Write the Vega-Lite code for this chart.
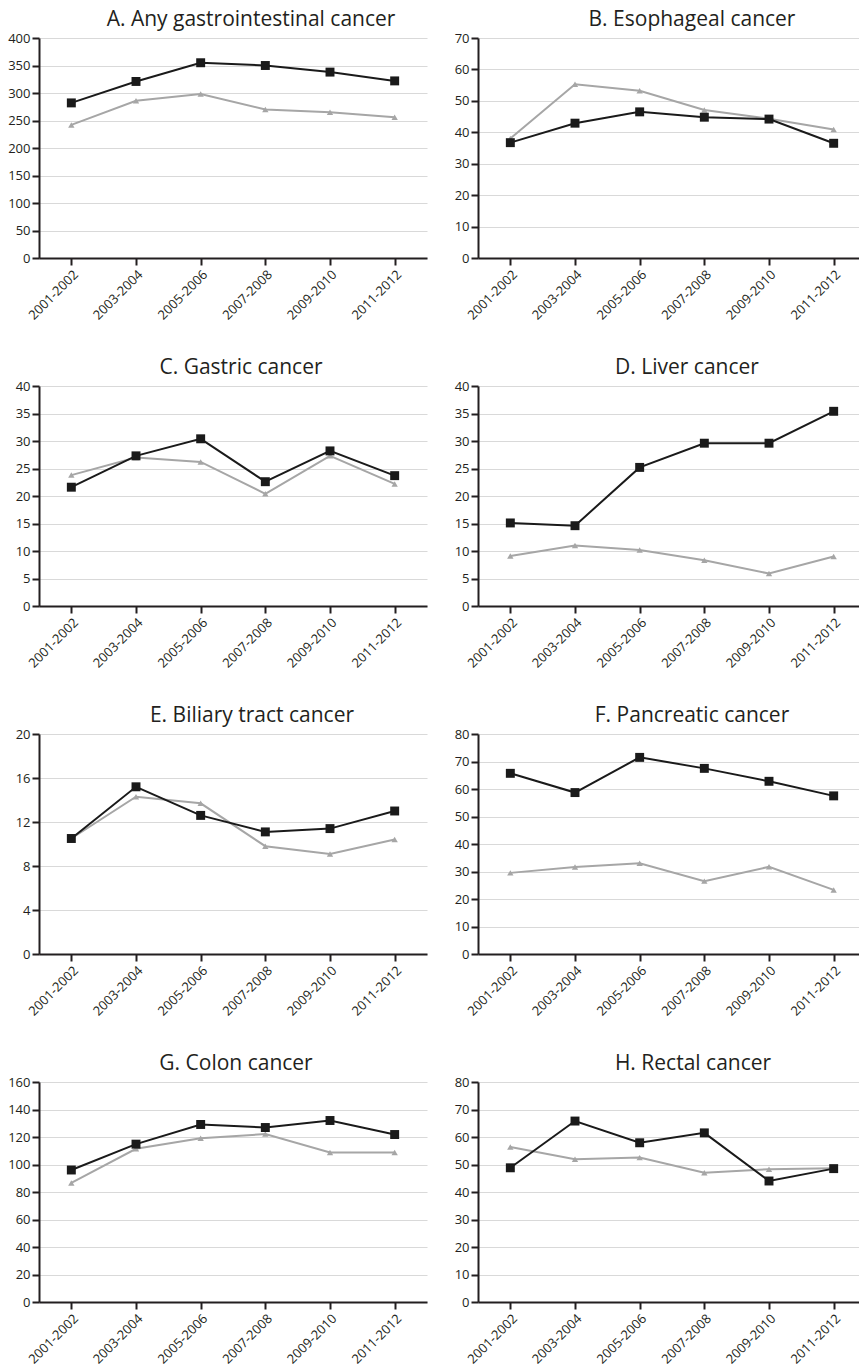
{
  "$schema": "https://vega.github.io/schema/vega-lite/v6.json",
  "background": "white",
  "padding": {"left": 7, "top": 9, "right": 0, "bottom": 0},
  "config": {
    "font": "Open Sans",
    "view": {"stroke": null},
    "title": {"fontSize": 21, "fontWeight": "normal", "color": "#231f20", "anchor": "middle", "offset": 2, "font": "Open Sans"},
    "axis": {"labelFont": "Open Sans", "labelFontSize": 13, "labelColor": "#231f20", "domainColor": "#231f20", "domainWidth": 2, "tickColor": "#231f20", "tickWidth": 2, "tickSize": 7, "labelPadding": 2, "title": null, "gridColor": "#d9d9d9", "gridWidth": 1},
    "axisY": {"grid": true},
    "axisX": {"grid": false, "labelAngle": -45, "labelPadding": 3},
    "line": {"strokeWidth": 2},
    "point": {"filled": true, "opacity": 1}
  },
  "datasets": {
    "A": [
      {"period":"2001-2002","series":"Series 2","rate":242},{"period":"2003-2004","series":"Series 2","rate":286},{"period":"2005-2006","series":"Series 2","rate":298},{"period":"2007-2008","series":"Series 2","rate":270},{"period":"2009-2010","series":"Series 2","rate":265},{"period":"2011-2012","series":"Series 2","rate":256},
      {"period":"2001-2002","series":"Series 1","rate":282},{"period":"2003-2004","series":"Series 1","rate":321},{"period":"2005-2006","series":"Series 1","rate":355},{"period":"2007-2008","series":"Series 1","rate":350},{"period":"2009-2010","series":"Series 1","rate":338},{"period":"2011-2012","series":"Series 1","rate":322}
    ],
    "B": [
      {"period":"2001-2002","series":"Series 2","rate":38.0},{"period":"2003-2004","series":"Series 2","rate":55.3},{"period":"2005-2006","series":"Series 2","rate":53.2},{"period":"2007-2008","series":"Series 2","rate":47.1},{"period":"2009-2010","series":"Series 2","rate":44.3},{"period":"2011-2012","series":"Series 2","rate":40.9},
      {"period":"2001-2002","series":"Series 1","rate":36.7},{"period":"2003-2004","series":"Series 1","rate":42.9},{"period":"2005-2006","series":"Series 1","rate":46.5},{"period":"2007-2008","series":"Series 1","rate":44.8},{"period":"2009-2010","series":"Series 1","rate":44.2},{"period":"2011-2012","series":"Series 1","rate":36.5}
    ],
    "C": [
      {"period":"2001-2002","series":"Series 2","rate":23.8},{"period":"2003-2004","series":"Series 2","rate":27.0},{"period":"2005-2006","series":"Series 2","rate":26.2},{"period":"2007-2008","series":"Series 2","rate":20.4},{"period":"2009-2010","series":"Series 2","rate":27.3},{"period":"2011-2012","series":"Series 2","rate":22.2},
      {"period":"2001-2002","series":"Series 1","rate":21.6},{"period":"2003-2004","series":"Series 1","rate":27.3},{"period":"2005-2006","series":"Series 1","rate":30.4},{"period":"2007-2008","series":"Series 1","rate":22.6},{"period":"2009-2010","series":"Series 1","rate":28.2},{"period":"2011-2012","series":"Series 1","rate":23.7}
    ],
    "D": [
      {"period":"2001-2002","series":"Series 2","rate":9.1},{"period":"2003-2004","series":"Series 2","rate":11.0},{"period":"2005-2006","series":"Series 2","rate":10.2},{"period":"2007-2008","series":"Series 2","rate":8.3},{"period":"2009-2010","series":"Series 2","rate":5.9},{"period":"2011-2012","series":"Series 2","rate":9.0},
      {"period":"2001-2002","series":"Series 1","rate":15.1},{"period":"2003-2004","series":"Series 1","rate":14.6},{"period":"2005-2006","series":"Series 1","rate":25.2},{"period":"2007-2008","series":"Series 1","rate":29.6},{"period":"2009-2010","series":"Series 1","rate":29.6},{"period":"2011-2012","series":"Series 1","rate":35.4}
    ],
    "E": [
      {"period":"2001-2002","series":"Series 2","rate":10.5},{"period":"2003-2004","series":"Series 2","rate":14.3},{"period":"2005-2006","series":"Series 2","rate":13.7},{"period":"2007-2008","series":"Series 2","rate":9.8},{"period":"2009-2010","series":"Series 2","rate":9.1},{"period":"2011-2012","series":"Series 2","rate":10.4},
      {"period":"2001-2002","series":"Series 1","rate":10.5},{"period":"2003-2004","series":"Series 1","rate":15.2},{"period":"2005-2006","series":"Series 1","rate":12.6},{"period":"2007-2008","series":"Series 1","rate":11.1},{"period":"2009-2010","series":"Series 1","rate":11.4},{"period":"2011-2012","series":"Series 1","rate":13.0}
    ],
    "F": [
      {"period":"2001-2002","series":"Series 2","rate":29.5},{"period":"2003-2004","series":"Series 2","rate":31.6},{"period":"2005-2006","series":"Series 2","rate":33.0},{"period":"2007-2008","series":"Series 2","rate":26.5},{"period":"2009-2010","series":"Series 2","rate":31.7},{"period":"2011-2012","series":"Series 2","rate":23.3},
      {"period":"2001-2002","series":"Series 1","rate":65.7},{"period":"2003-2004","series":"Series 1","rate":58.7},{"period":"2005-2006","series":"Series 1","rate":71.5},{"period":"2007-2008","series":"Series 1","rate":67.5},{"period":"2009-2010","series":"Series 1","rate":62.8},{"period":"2011-2012","series":"Series 1","rate":57.5}
    ],
    "G": [
      {"period":"2001-2002","series":"Series 2","rate":86.6},{"period":"2003-2004","series":"Series 2","rate":111.4},{"period":"2005-2006","series":"Series 2","rate":119.1},{"period":"2007-2008","series":"Series 2","rate":122.1},{"period":"2009-2010","series":"Series 2","rate":108.7},{"period":"2011-2012","series":"Series 2","rate":108.7},
      {"period":"2001-2002","series":"Series 1","rate":96.0},{"period":"2003-2004","series":"Series 1","rate":114.8},{"period":"2005-2006","series":"Series 1","rate":129.1},{"period":"2007-2008","series":"Series 1","rate":126.9},{"period":"2009-2010","series":"Series 1","rate":132.0},{"period":"2011-2012","series":"Series 1","rate":121.8}
    ],
    "H": [
      {"period":"2001-2002","series":"Series 2","rate":56.4},{"period":"2003-2004","series":"Series 2","rate":51.9},{"period":"2005-2006","series":"Series 2","rate":52.5},{"period":"2007-2008","series":"Series 2","rate":47.0},{"period":"2009-2010","series":"Series 2","rate":48.3},{"period":"2011-2012","series":"Series 2","rate":48.6},
      {"period":"2001-2002","series":"Series 1","rate":48.8},{"period":"2003-2004","series":"Series 1","rate":65.8},{"period":"2005-2006","series":"Series 1","rate":57.9},{"period":"2007-2008","series":"Series 1","rate":61.5},{"period":"2009-2010","series":"Series 1","rate":44.0},{"period":"2011-2012","series":"Series 1","rate":48.5}
    ]
  },
  "columns": 1,
  "align": "none",
  "spacing": 34,
  "concat": [
    {
      "spacing": 27,
      "hconcat": [
        {
          "title": {"text": "A. Any gastrointestinal cancer", "dx": 18},
          "width": 388, "height": 220,
          "data": {"name": "A"},
          "encoding": {
            "x": {"field": "period", "type": "ordinal", "scale": {"type": "point", "padding": 0.5}},
            "y": {"field": "rate", "type": "quantitative", "scale": {"domain": [0, 400], "nice": false}, "axis": {"values": [0, 50, 100, 150, 200, 250, 300, 350, 400]}},
            "color": {"field": "series", "type": "nominal", "scale": {"domain": ["Series 1", "Series 2"], "range": ["#1a1a1a", "#a6a6a6"]}, "legend": null}
          },
          "layer": [
            {"mark": {"type": "line"}},
            {"mark": {"type": "point"}, "encoding": {
              "shape": {"field": "series", "type": "nominal", "scale": {"domain": ["Series 1", "Series 2"], "range": ["square", "triangle-up"]}, "legend": null},
              "size": {"field": "series", "type": "nominal", "scale": {"domain": ["Series 1", "Series 2"], "range": [80, 40]}, "legend": null}
            }}
          ]
        },
        {
          "title": {"text": "B. Esophageal cancer", "dx": 20},
          "width": 388, "height": 220,
          "data": {"name": "B"},
          "encoding": {
            "x": {"field": "period", "type": "ordinal", "scale": {"type": "point", "padding": 0.5}},
            "y": {"field": "rate", "type": "quantitative", "scale": {"domain": [0, 70], "nice": false}, "axis": {"values": [0, 10, 20, 30, 40, 50, 60, 70]}},
            "color": {"field": "series", "type": "nominal", "scale": {"domain": ["Series 1", "Series 2"], "range": ["#1a1a1a", "#a6a6a6"]}, "legend": null}
          },
          "layer": [
            {"mark": {"type": "line"}},
            {"mark": {"type": "point"}, "encoding": {
              "shape": {"field": "series", "type": "nominal", "scale": {"domain": ["Series 1", "Series 2"], "range": ["square", "triangle-up"]}, "legend": null},
              "size": {"field": "series", "type": "nominal", "scale": {"domain": ["Series 1", "Series 2"], "range": [80, 40]}, "legend": null}
            }}
          ]
        }
      ]
    },
    {
      "spacing": 27,
      "hconcat": [
        {
          "title": {"text": "C. Gastric cancer", "dx": 8},
          "width": 388, "height": 220,
          "data": {"name": "C"},
          "encoding": {
            "x": {"field": "period", "type": "ordinal", "scale": {"type": "point", "padding": 0.5}},
            "y": {"field": "rate", "type": "quantitative", "scale": {"domain": [0, 40], "nice": false}, "axis": {"values": [0, 5, 10, 15, 20, 25, 30, 35, 40]}},
            "color": {"field": "series", "type": "nominal", "scale": {"domain": ["Series 1", "Series 2"], "range": ["#1a1a1a", "#a6a6a6"]}, "legend": null}
          },
          "layer": [
            {"mark": {"type": "line"}},
            {"mark": {"type": "point"}, "encoding": {
              "shape": {"field": "series", "type": "nominal", "scale": {"domain": ["Series 1", "Series 2"], "range": ["square", "triangle-up"]}, "legend": null},
              "size": {"field": "series", "type": "nominal", "scale": {"domain": ["Series 1", "Series 2"], "range": [80, 40]}, "legend": null}
            }}
          ]
        },
        {
          "title": {"text": "D. Liver cancer", "dx": 15},
          "width": 388, "height": 220,
          "data": {"name": "D"},
          "encoding": {
            "x": {"field": "period", "type": "ordinal", "scale": {"type": "point", "padding": 0.5}},
            "y": {"field": "rate", "type": "quantitative", "scale": {"domain": [0, 40], "nice": false}, "axis": {"values": [0, 5, 10, 15, 20, 25, 30, 35, 40]}},
            "color": {"field": "series", "type": "nominal", "scale": {"domain": ["Series 1", "Series 2"], "range": ["#1a1a1a", "#a6a6a6"]}, "legend": null}
          },
          "layer": [
            {"mark": {"type": "line"}},
            {"mark": {"type": "point"}, "encoding": {
              "shape": {"field": "series", "type": "nominal", "scale": {"domain": ["Series 1", "Series 2"], "range": ["square", "triangle-up"]}, "legend": null},
              "size": {"field": "series", "type": "nominal", "scale": {"domain": ["Series 1", "Series 2"], "range": [80, 40]}, "legend": null}
            }}
          ]
        }
      ]
    },
    {
      "spacing": 27,
      "hconcat": [
        {
          "title": {"text": "E. Biliary tract cancer", "dx": 19},
          "width": 388, "height": 220,
          "data": {"name": "E"},
          "encoding": {
            "x": {"field": "period", "type": "ordinal", "scale": {"type": "point", "padding": 0.5}},
            "y": {"field": "rate", "type": "quantitative", "scale": {"domain": [0, 20], "nice": false}, "axis": {"values": [0, 4, 8, 12, 16, 20]}},
            "color": {"field": "series", "type": "nominal", "scale": {"domain": ["Series 1", "Series 2"], "range": ["#1a1a1a", "#a6a6a6"]}, "legend": null}
          },
          "layer": [
            {"mark": {"type": "line"}},
            {"mark": {"type": "point"}, "encoding": {
              "shape": {"field": "series", "type": "nominal", "scale": {"domain": ["Series 1", "Series 2"], "range": ["square", "triangle-up"]}, "legend": null},
              "size": {"field": "series", "type": "nominal", "scale": {"domain": ["Series 1", "Series 2"], "range": [80, 40]}, "legend": null}
            }}
          ]
        },
        {
          "title": {"text": "F. Pancreatic cancer", "dx": 20},
          "width": 388, "height": 220,
          "data": {"name": "F"},
          "encoding": {
            "x": {"field": "period", "type": "ordinal", "scale": {"type": "point", "padding": 0.5}},
            "y": {"field": "rate", "type": "quantitative", "scale": {"domain": [0, 80], "nice": false}, "axis": {"values": [0, 10, 20, 30, 40, 50, 60, 70, 80]}},
            "color": {"field": "series", "type": "nominal", "scale": {"domain": ["Series 1", "Series 2"], "range": ["#1a1a1a", "#a6a6a6"]}, "legend": null}
          },
          "layer": [
            {"mark": {"type": "line"}},
            {"mark": {"type": "point"}, "encoding": {
              "shape": {"field": "series", "type": "nominal", "scale": {"domain": ["Series 1", "Series 2"], "range": ["square", "triangle-up"]}, "legend": null},
              "size": {"field": "series", "type": "nominal", "scale": {"domain": ["Series 1", "Series 2"], "range": [80, 40]}, "legend": null}
            }}
          ]
        }
      ]
    },
    {
      "spacing": 27,
      "hconcat": [
        {
          "title": {"text": "G. Colon cancer", "dx": 3},
          "width": 388, "height": 220,
          "data": {"name": "G"},
          "encoding": {
            "x": {"field": "period", "type": "ordinal", "scale": {"type": "point", "padding": 0.5}},
            "y": {"field": "rate", "type": "quantitative", "scale": {"domain": [0, 160], "nice": false}, "axis": {"values": [0, 20, 40, 60, 80, 100, 120, 140, 160]}},
            "color": {"field": "series", "type": "nominal", "scale": {"domain": ["Series 1", "Series 2"], "range": ["#1a1a1a", "#a6a6a6"]}, "legend": null}
          },
          "layer": [
            {"mark": {"type": "line"}},
            {"mark": {"type": "point"}, "encoding": {
              "shape": {"field": "series", "type": "nominal", "scale": {"domain": ["Series 1", "Series 2"], "range": ["square", "triangle-up"]}, "legend": null},
              "size": {"field": "series", "type": "nominal", "scale": {"domain": ["Series 1", "Series 2"], "range": [80, 40]}, "legend": null}
            }}
          ]
        },
        {
          "title": {"text": "H. Rectal cancer", "dx": 21},
          "width": 388, "height": 220,
          "data": {"name": "H"},
          "encoding": {
            "x": {"field": "period", "type": "ordinal", "scale": {"type": "point", "padding": 0.5}},
            "y": {"field": "rate", "type": "quantitative", "scale": {"domain": [0, 80], "nice": false}, "axis": {"values": [0, 10, 20, 30, 40, 50, 60, 70, 80]}},
            "color": {"field": "series", "type": "nominal", "scale": {"domain": ["Series 1", "Series 2"], "range": ["#1a1a1a", "#a6a6a6"]}, "legend": null}
          },
          "layer": [
            {"mark": {"type": "line"}},
            {"mark": {"type": "point"}, "encoding": {
              "shape": {"field": "series", "type": "nominal", "scale": {"domain": ["Series 1", "Series 2"], "range": ["square", "triangle-up"]}, "legend": null},
              "size": {"field": "series", "type": "nominal", "scale": {"domain": ["Series 1", "Series 2"], "range": [80, 40]}, "legend": null}
            }}
          ]
        }
      ]
    }
  ]
}
